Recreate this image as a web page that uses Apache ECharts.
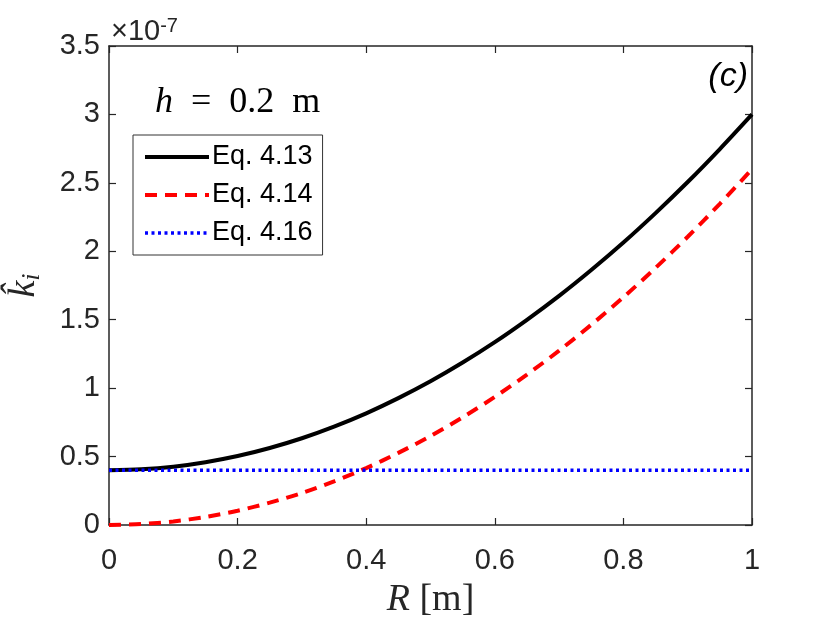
<!DOCTYPE html>
<html>
<head>
<meta charset="utf-8">
<script src="https://cdn.jsdelivr.net/npm/echarts@6/dist/echarts.min.js"></script>
<style>
html, body { margin: 0; padding: 0; background: #fff; }
#chart { width: 830px; height: 623px; }
</style>
</head>
<body>
<div id="chart"></div>
<script>
// R [m] sample points, values in units of 1e-7
const radius = [0, 0.05, 0.1, 0.15, 0.2, 0.25, 0.3, 0.35, 0.4, 0.45, 0.5,
	0.55, 0.6, 0.65, 0.7, 0.75, 0.8, 0.85, 0.9, 0.95, 1];
const eq413 = [0.400, 0.407, 0.426, 0.459, 0.504, 0.563, 0.634, 0.719, 0.816, 0.927, 1.050,
	1.187, 1.336, 1.499, 1.674, 1.863, 2.064, 2.279, 2.506, 2.747, 3.000];
const eq414 = [0.000, 0.007, 0.026, 0.059, 0.104, 0.163, 0.234, 0.319, 0.416, 0.527, 0.650,
	0.787, 0.936, 1.099, 1.274, 1.463, 1.664, 1.879, 2.106, 2.347, 2.600];
const eq416 = [0.40, 0.40, 0.40, 0.40, 0.40, 0.40, 0.40, 0.40, 0.40, 0.40, 0.40,
	0.40, 0.40, 0.40, 0.40, 0.40, 0.40, 0.40, 0.40, 0.40, 0.40];
const seriesNames = ["Eq. 4.13", "Eq. 4.14", "Eq. 4.16"];

const axisColor = "#262626";
const sans = "Liberation Sans, Arial, sans-serif";
const serif = "Liberation Serif, Times New Roman, serif";

function pairs( ys ) {
	return radius.map( ( r, i ) => [ r, ys[ i ] ] );
}

const chart = echarts.init( document.getElementById( "chart" ) );

const tick = { show: true, inside: true, length: 7, lineStyle: { color: axisColor, width: 1.2 } };
const line = { show: true, onZero: false, lineStyle: { color: axisColor, width: 1.5 } };

chart.setOption( {
	animation: false,
	grid: { left: 109, right: 78, top: 46, bottom: 98, containLabel: false, outerBoundsMode: "none" },
	legend: {
		orient: "vertical",
		left: 133,
		top: 135,
		itemWidth: 64,
		itemHeight: 14,
		itemGap: 10,
		padding: [ 8, 10, 8, 10 ],
		borderColor: "#333",
		borderWidth: 1,
		itemStyle: { opacity: 0 },
		lineStyle: { width: "inherit" },
		data: seriesNames,
		textStyle: { fontFamily: sans, fontSize: 27, lineHeight: 28, color: "#000", padding: [ 0, 0, 0, -2 ] }
	},
	xAxis: [
		{
			type: "value", min: 0, max: 1, interval: 0.2,
			axisLine: line, axisTick: tick, splitLine: { show: false },
			axisLabel: { fontFamily: sans, fontSize: 29, color: axisColor, margin: 21 },
			name: "{r|R} [m]",
			nameLocation: "middle",
			nameGap: 56,
			nameTextStyle: {
				fontFamily: serif, fontSize: 38, color: axisColor,
				rich: { r: { fontFamily: serif, fontSize: 38, fontStyle: "italic", color: axisColor } }
			}
		},
		{
			type: "value", min: 0, max: 1, interval: 0.2, position: "top",
			axisLine: line, axisTick: tick, axisLabel: { show: false }, splitLine: { show: false }
		}
	],
	yAxis: [
		{
			type: "value", min: 0, max: 3.5, interval: 0.5,
			axisLine: line, axisTick: tick, splitLine: { show: false },
			axisLabel: { fontFamily: sans, fontSize: 29, color: axisColor, margin: 9 },
			name: "{k|k\u0302}{i|i}",
			nameLocation: "middle",
			nameRotate: 90,
			nameGap: 64,
			nameTextStyle: {
				color: axisColor,
				rich: {
					k: { fontFamily: serif, fontSize: 38, fontStyle: "italic", color: axisColor, verticalAlign: "top" },
					i: { fontFamily: serif, fontSize: 26, fontStyle: "italic", color: axisColor, verticalAlign: "bottom", padding: [ 14, 0, 0, 0 ] }
				}
			}
		},
		{
			type: "value", min: 0, max: 3.5, interval: 0.5, position: "right",
			axisLine: line, axisTick: tick, axisLabel: { show: false }, splitLine: { show: false }
		}
	],
	series: [
		{
			name: seriesNames[ 0 ], type: "line", data: pairs( eq413 ), symbol: "none", smooth: 0.3,
			lineStyle: { color: "#000", width: 4 }, itemStyle: { color: "#000" }
		},
		{
			name: seriesNames[ 1 ], type: "line", data: pairs( eq414 ), symbol: "none", smooth: 0.3,
			lineStyle: { color: "#ff0000", width: 4, type: [ 12, 8 ] }, itemStyle: { color: "#ff0000" }
		},
		{
			name: seriesNames[ 2 ], type: "line", data: pairs( eq416 ), symbol: "none",
			lineStyle: { color: "#0000ff", width: 3.5, type: [ 3, 3.5 ] }, itemStyle: { color: "#0000ff" }
		}
	],
	graphic: [
		{
			type: "text", left: 111, top: 16,
			style: {
				text: "{a|\u00d710}{b|-7}",
				rich: {
					a: { fontFamily: sans, fontSize: 29, fill: axisColor, verticalAlign: "bottom" },
					b: { fontFamily: sans, fontSize: 20, fill: axisColor, verticalAlign: "top", padding: [ 0, 0, 10, 0 ] }
				}
			}
		},
		{
			type: "text", left: 155, top: 85,
			style: {
				text: "{h|h}\u2002=\u20020.2\u2002m",
				fontFamily: serif, fontSize: 36, fill: "#000",
				rich: { h: { fontFamily: serif, fontSize: 36, fontStyle: "italic", fill: "#000" } }
			}
		},
		{
			type: "text", right: 82, top: 60,
			style: { text: "(c)", fontFamily: sans, fontSize: 34, fontStyle: "italic", fill: "#000" }
		}
	]
} );
</script>
</body>
</html>
